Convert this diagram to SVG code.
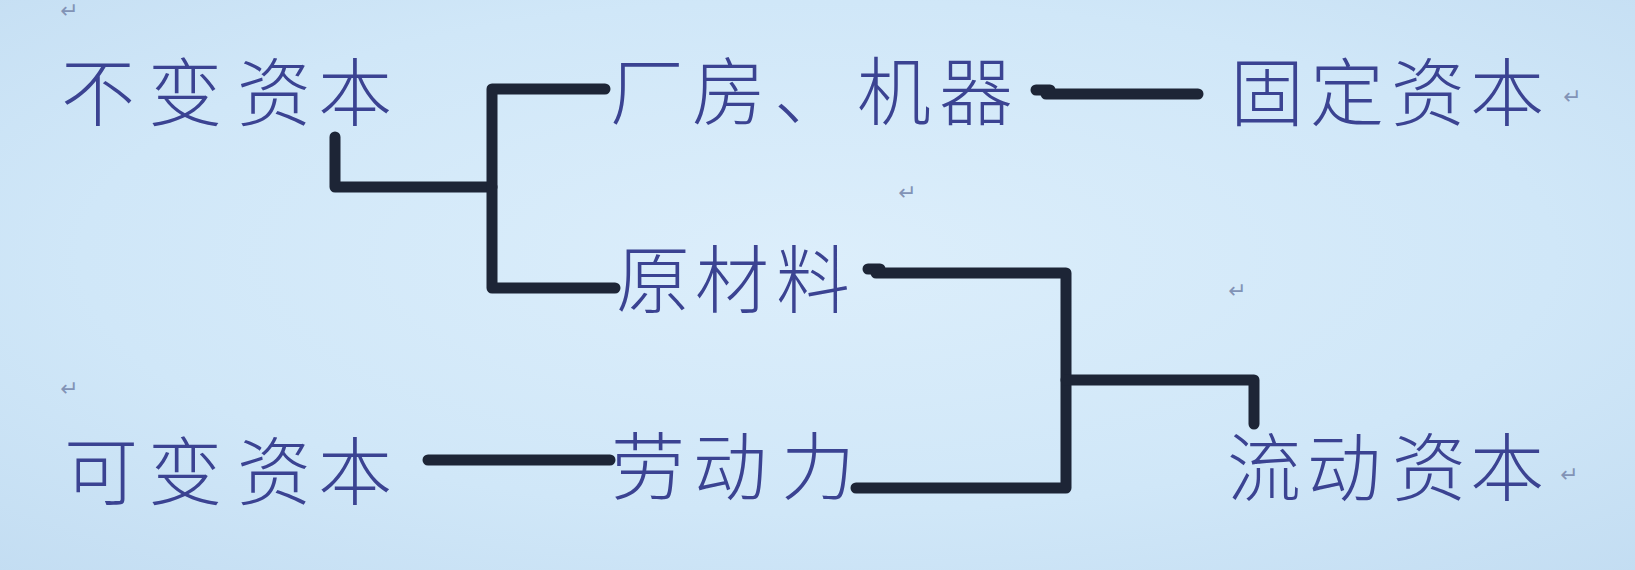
<svg xmlns="http://www.w3.org/2000/svg" width="1635" height="570" viewBox="0 0 1635 570">
  <defs>
    <radialGradient id="bg" cx="50%" cy="45%" r="75%">
      <stop offset="0" stop-color="#dceefb"/>
      <stop offset="0.6" stop-color="#d0e7f8"/>
      <stop offset="1" stop-color="#c3ddf2"/>
    </radialGradient>
    <style>
      .lbl { font-family: "Noto Sans CJK SC", "Noto Sans CJK TC", sans-serif; font-size: 74px; font-weight: 300; fill: #3b4392; }
      .pm { font-family: "DejaVu Sans", sans-serif; font-size: 22px; fill: #8293b6; }
      .conn { fill: none; stroke: #1d2536; stroke-width: 11; stroke-linecap: round; stroke-linejoin: round; }
    </style>
  </defs>
  <rect width="1635" height="570" fill="url(#bg)"/>

  <g id="marks">
    <text class="pm" x="60" y="18">↵</text>
    <text class="pm" x="898" y="200">↵</text>
    <text class="pm" x="1228" y="298">↵</text>
    <text class="pm" x="60" y="396">↵</text>
  </g>

  <g id="connectors">
    <path class="conn" d="M335,137 V187 H492"/>
    <path class="conn" d="M605,89 H492 V288 H615"/>
    <path class="conn" d="M1036,90 H1050"/>
    <path class="conn" d="M1046,94 H1198"/>
    <path class="conn" d="M868,269 H880"/>
    <path class="conn" d="M876,273 H1066 V488 H856"/>
    <path class="conn" d="M1066,380 H1254 V424"/>
    <path class="conn" d="M428,460 H610"/>
  </g>

  <g id="node-bubian">
    <text class="lbl" x="61 148 237 318" y="120">不变资本</text>
  </g>
  <g id="node-changfang">
    <text class="lbl" x="610 692 774 857 939" y="119">厂房、机器</text>
  </g>
  <g id="node-guding">
    <text class="lbl" x="1230 1310 1391 1470" y="120">固定资本</text>
    <text class="pm" x="1563" y="104">↵</text>
  </g>
  <g id="node-yuancailiao">
    <text class="lbl" x="616 695 776" y="307">原材料</text>
  </g>
  <g id="node-kebian">
    <text class="lbl" x="64 148 237 318" y="499">可变资本</text>
  </g>
  <g id="node-laodongli">
    <text class="lbl" x="611 693 781" y="494">劳动力</text>
  </g>
  <g id="node-liudong">
    <text class="lbl" x="1227 1307 1392 1470" y="495">流动资本</text>
    <text class="pm" x="1560" y="482">↵</text>
  </g>
</svg>
